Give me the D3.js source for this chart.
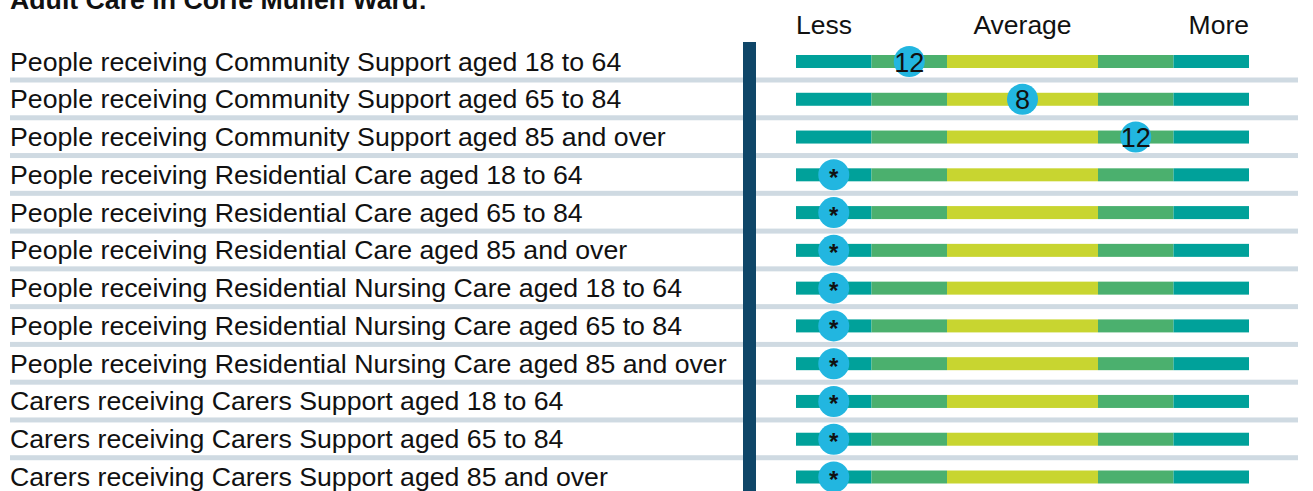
<!DOCTYPE html>
<html>
<head>
<meta charset="utf-8">
<script src="https://cdn.jsdelivr.net/npm/d3@7"></script>
<style>
  body { margin: 0; background: #fff; }
  svg { display: block; font-family: "Liberation Sans", Arial, sans-serif; }
</style>
</head>
<body>
<script>
// rows of the chart
var categories = [
  'People receiving Community Support aged 18 to 64',
  'People receiving Community Support aged 65 to 84',
  'People receiving Community Support aged 85 and over',
  'People receiving Residential Care aged 18 to 64',
  'People receiving Residential Care aged 65 to 84',
  'People receiving Residential Care aged 85 and over',
  'People receiving Residential Nursing Care aged 18 to 64',
  'People receiving Residential Nursing Care aged 65 to 84',
  'People receiving Residential Nursing Care aged 85 and over',
  'Carers receiving Carers Support aged 18 to 64',
  'Carers receiving Carers Support aged 65 to 84',
  'Carers receiving Carers Support aged 85 and over'
];
// where the marker sits on the less..more band (0 to 6)
var positions = [1.5, 3, 4.5, 0.5, 0.5, 0.5, 0.5, 0.5, 0.5, 0.5, 0.5, 0.5];
// text shown in the marker
var counts = ['12', '8', '12', '*', '*', '*', '*', '*', '*', '*', '*', '*'];
// band segments
var bandStarts = [0, 1, 2, 4, 5];
var bandEnds = [1, 2, 4, 5, 6];
var bandColors = ['#00a19a', '#4bb06e', '#c8d530', '#4bb06e', '#00a19a'];
// header ticks
var headerLabels = ['Less', 'Average', 'More'];
var headerPos = [0, 3, 6];
var headerAnchor = ['start', 'middle', 'end'];

var W = 1313, H = 491;
var svg = d3.select('body').append('svg')
  .attr('width', W)
  .attr('height', H);

var x = d3.scaleLinear().domain([0, 6]).range([796, 1249]);
var y = d3.scalePoint().domain(d3.range(categories.length)).range([61.5, 477]);

// title (cut at the top in the original)
svg.append('text')
  .attr('x', 10)
  .attr('y', 9)
  .attr('font-size', 26.7)
  .attr('font-weight', 'bold')
  .attr('fill', '#111')
  .text('Adult Care in Corfe Mullen Ward:');

// header
svg.selectAll('.hdr')
  .data(headerLabels)
  .enter().append('text')
  .attr('class', 'hdr')
  .attr('x', function(d, i){ return x(headerPos[i]); })
  .attr('y', 34)
  .attr('text-anchor', function(d, i){ return headerAnchor[i]; })
  .attr('font-size', 26.5)
  .attr('fill', '#111')
  .text(function(d){ return d; });

// separators
svg.selectAll('.sep')
  .data(d3.range(categories.length - 1))
  .enter().append('rect')
  .attr('class', 'sep')
  .attr('x', 10)
  .attr('y', function(d){ return y(d) + 16; })
  .attr('width', 1288)
  .attr('height', 5)
  .attr('fill', '#cfdae2');

// labels
svg.selectAll('.lbl')
  .data(categories)
  .enter().append('text')
  .attr('class', 'lbl')
  .attr('x', 10)
  .attr('y', function(d, i){ return y(i) + 9; })
  .attr('font-size', 26.7)
  .attr('fill', '#111')
  .text(function(d){ return d; });

// vertical divider
svg.append('rect')
  .attr('x', 743)
  .attr('y', 42)
  .attr('width', 13)
  .attr('height', H - 42)
  .attr('fill', '#0f4668');

// bands
categories.forEach(function(c, i){
  svg.selectAll('.band' + i)
    .data(bandStarts)
    .enter().append('rect')
    .attr('x', function(d){ return x(d); })
    .attr('y', y(i) - 6.5)
    .attr('width', function(d, j){ return x(bandEnds[j]) - x(d); })
    .attr('height', 13)
    .attr('fill', function(d, j){ return bandColors[j]; });
});

// markers
var mk = svg.selectAll('.mk')
  .data(positions)
  .enter().append('g')
  .attr('class', 'mk')
  .attr('transform', function(d, i){ return 'translate(' + x(d) + ',' + y(i) + ')'; });

mk.append('circle')
  .attr('r', 15.5)
  .attr('fill', '#22b6e0');

mk.append('text')
  .attr('text-anchor', 'middle')
  .attr('y', function(d, i){ return counts[i] == '*' ? 11 : 10; })
  .attr('font-size', function(d, i){ return counts[i] == '*' ? 24 : 27; })
  .attr('font-weight', function(d, i){ return counts[i] == '*' ? 'bold' : 'normal'; })
  .attr('fill', '#111')
  .text(function(d, i){ return counts[i]; });
</script>
</body>
</html>
